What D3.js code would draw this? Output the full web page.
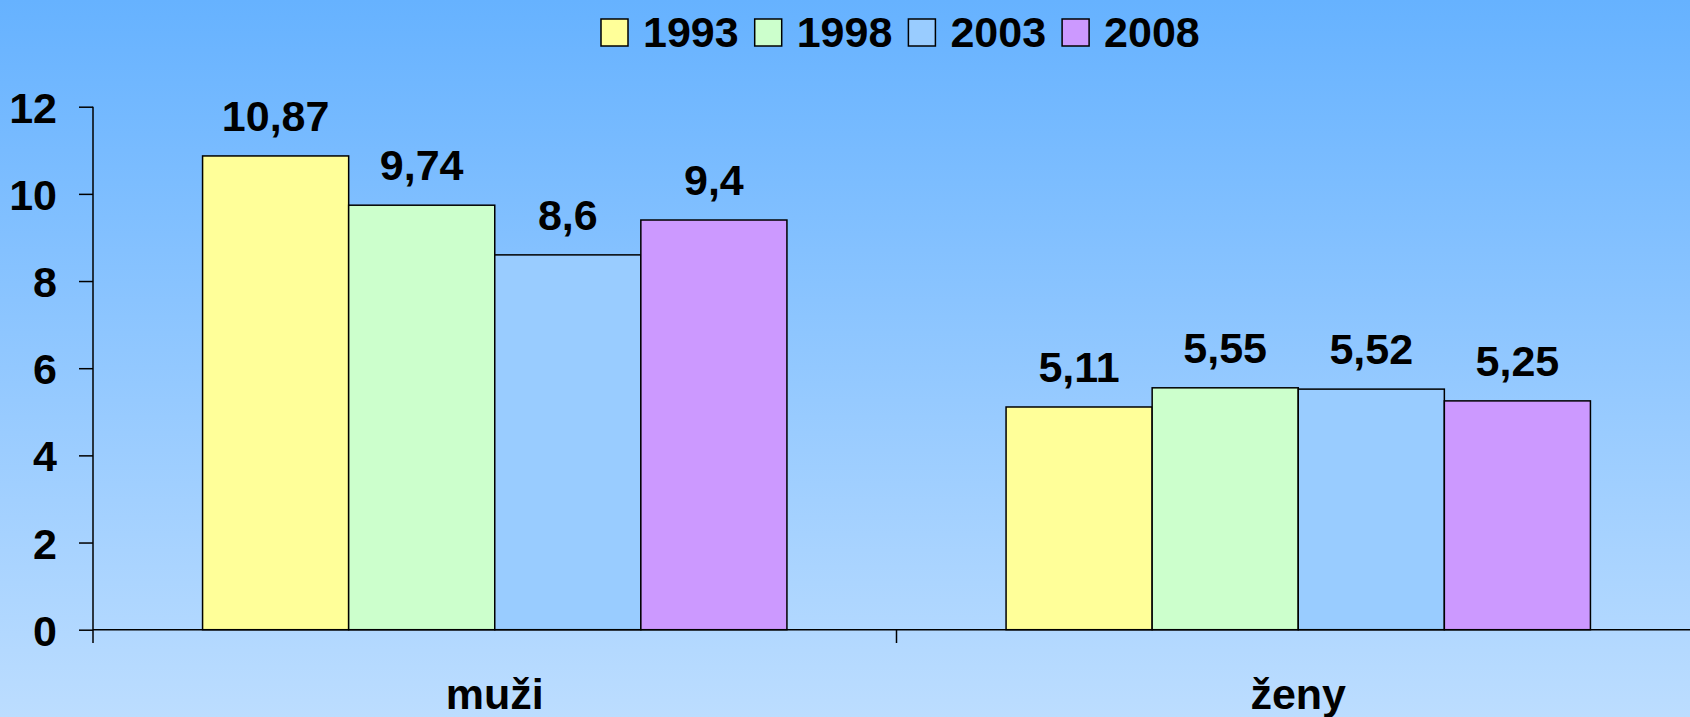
<!DOCTYPE html>
<html>
<head>
<meta charset="utf-8">
<script src="https://cdn.jsdelivr.net/npm/d3@7"></script>
<style>
  html, body { margin: 0; padding: 0; overflow: hidden; }
  svg { display: block; }
</style>
</head>
<body>
<script>
var width = 1690,
    height = 717;

// chart data
var categories = ["muži", "ženy"];
var years = ["1993", "1998", "2003", "2008"];
var values = {
  "muži": [10.87, 9.74, 8.6, 9.4],
  "ženy": [5.11, 5.55, 5.52, 5.25]
};
var yTicks = [0, 2, 4, 6, 8, 10, 12];
var barColors = ["#FFFF99", "#CCFFCC", "#99CCFF", "#CC99FF"];

var fontFamily = "'Liberation Sans', Arial, sans-serif";

var svg = d3.select("body").append("svg")
  .attr("width", width)
  .attr("height", height);

// background gradient
var grad = svg.append("defs").append("linearGradient")
  .attr("id", "bg")
  .attr("x1", 0).attr("y1", 0).attr("x2", 0).attr("y2", 1);
grad.append("stop").attr("offset", "0%").attr("stop-color", "#66B2FF");
grad.append("stop").attr("offset", "100%").attr("stop-color", "#BCDDFF");
svg.append("rect")
  .attr("width", width).attr("height", height)
  .attr("fill", "url(#bg)");

var x0 = d3.scaleBand()
  .domain(categories)
  .range([93, 1700])
  .padding(0);

var x1 = d3.scaleBand()
  .domain(years)
  .range([0, x0.bandwidth()])
  .paddingInner(0)
  .paddingOuter(0.75);

var y = d3.scaleLinear()
  .domain([0, 12])
  .range([629.7, 106.7]);

var color = d3.scaleOrdinal().domain(years).range(barColors);

// bars
var groups = svg.selectAll(".group").data(categories).enter()
  .append("g")
    .attr("class", "group")
    .attr("transform", function(c) { return "translate(" + x0(c) + ",0)"; });

groups.selectAll("rect").data(function(c) {
    return years.map(function(yr, i) { return {year: yr, value: values[c][i]}; });
  }).enter()
  .append("rect")
    .attr("x", function(d) { return x1(d.year); })
    .attr("y", function(d) { return y(d.value); })
    .attr("width", x1.bandwidth())
    .attr("height", function(d) { return y(0) - y(d.value); })
    .attr("fill", function(d) { return color(d.year); })
    .attr("stroke", "#000")
    .attr("stroke-width", 1.5);

// value labels
groups.selectAll(".valueLabel").data(function(c) {
    return years.map(function(yr, i) { return {year: yr, value: values[c][i]}; });
  }).enter()
  .append("text")
    .attr("class", "valueLabel")
    .attr("x", function(d) { return x1(d.year) + x1.bandwidth() / 2; })
    .attr("y", function(d) { return y(d.value) - 25; })
    .attr("text-anchor", "middle")
    .attr("font-family", fontFamily)
    .attr("font-weight", "bold")
    .attr("font-size", "43px")
    .text(function(d) { return String(d.value).replace(".", ","); });

// y axis
var yAxis = d3.axisLeft(y)
  .tickValues(yTicks)
  .tickSize(14)
  .tickPadding(22)
  .tickFormat(d3.format("d"));

var gy = svg.append("g")
  .attr("transform", "translate(93,0)")
  .call(yAxis);
gy.select(".domain").remove();
gy.append("line")
  .attr("x1", 0).attr("x2", 0)
  .attr("y1", y(12)).attr("y2", 643)
  .attr("stroke", "#000").attr("stroke-width", 1.5);
gy.selectAll(".tick line").attr("stroke", "#000").attr("stroke-width", 1.5);
gy.selectAll(".tick text")
  .attr("fill", "#000")
  .attr("font-family", fontFamily)
  .attr("font-weight", "bold")
  .attr("font-size", "43px")
  .attr("dy", "0.36em");

// x axis
svg.append("line")
  .attr("x1", 93).attr("x2", width)
  .attr("y1", y(0)).attr("y2", y(0))
  .attr("stroke", "#000").attr("stroke-width", 1.5);

svg.selectAll(".catTick").data(categories.slice(1)).enter()
  .append("line")
    .attr("class", "catTick")
    .attr("x1", function(c) { return x0(c); })
    .attr("x2", function(c) { return x0(c); })
    .attr("y1", y(0)).attr("y2", 643)
    .attr("stroke", "#000").attr("stroke-width", 1.5);

svg.selectAll(".catLabel").data(categories).enter()
  .append("text")
    .attr("class", "catLabel")
    .attr("x", function(c) { return x0(c) + x0.bandwidth() / 2; })
    .attr("y", 709)
    .attr("text-anchor", "middle")
    .attr("font-family", fontFamily)
    .attr("font-weight", "bold")
    .attr("font-size", "43px")
    .text(function(c) { return c; });

// legend
var legendX = 601, legendStep = 153.7;
var legend = svg.selectAll(".legend").data(years).enter()
  .append("g")
    .attr("class", "legend")
    .attr("transform", function(d, i) { return "translate(" + (legendX + i * legendStep) + ",0)"; });
legend.append("rect")
  .attr("x", 0).attr("y", 19)
  .attr("width", 27).attr("height", 27)
  .attr("fill", function(d) { return color(d); })
  .attr("stroke", "#000")
  .attr("stroke-width", 1.5);
legend.append("text")
  .attr("x", 42)
  .attr("y", 47)
  .attr("font-family", fontFamily)
  .attr("font-weight", "bold")
  .attr("font-size", "43px")
  .text(function(d) { return d; });
</script>
</body>
</html>
